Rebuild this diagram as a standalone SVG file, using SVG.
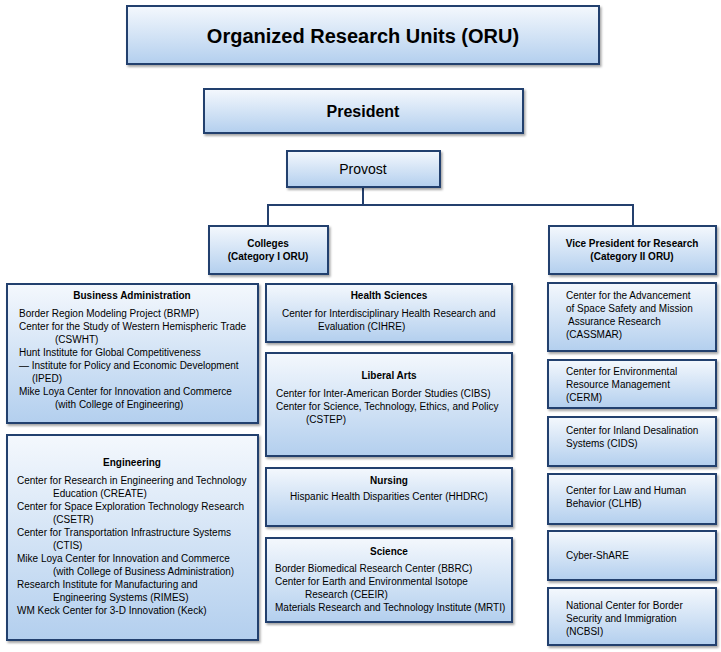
<svg xmlns="http://www.w3.org/2000/svg" width="721" height="652" viewBox="0 0 721 652">
<defs>
<linearGradient id="g" x1="0" y1="0" x2="0" y2="1"><stop offset="0" stop-color="#f4f8fd"/><stop offset="1" stop-color="#b3cfee"/></linearGradient>
<filter id="s" x="-5%" y="-5%" width="115%" height="120%"><feDropShadow dx="1.5" dy="2" stdDeviation="1.2" flood-color="#000" flood-opacity="0.35"/></filter>
</defs>
<style>
rect{fill:url(#g);stroke:#24406e;stroke-width:2;filter:url(#s)}
text{font-family:"Liberation Sans",Arial,sans-serif;font-size:10px;fill:#000}
.b{font-weight:bold}
.c{text-anchor:middle}
.con{fill:none;stroke:#24406e;stroke-width:2}
</style>
<rect width="721" height="652" style="fill:#fff;stroke:none;filter:none"/>
<g id="connectors"><path class="con" d="M363 187V205M268 227V205H633V227"/></g>
<g id="oru"><rect x="127" y="6" width="472" height="58"/><text class="b c" x="363" y="43" style="font-size:20px">Organized Research Units (ORU)</text></g>
<g id="president"><rect x="204" y="89" width="319" height="44"/><text class="b c" x="363" y="117" style="font-size:16px">President</text></g>
<g id="provost"><rect x="287" y="151" width="153" height="36"/><text class="c" x="363" y="174" style="font-size:14px">Provost</text></g>
<g id="colleges"><rect x="209" y="226" width="119" height="48"/><text class="b c" x="268" y="247">Colleges</text><text class="b c" x="268" y="260">(Category I ORU)</text></g>
<g id="vp"><rect x="549" y="226" width="167" height="48"/><text class="b c" x="632" y="247">Vice President for Research</text><text class="b c" x="632" y="260">(Category II ORU)</text></g>
<g id="business"><rect x="7" y="284" width="251" height="139"/>
<text class="b c" x="132" y="299">Business Administration</text>
<text x="19" y="317">Border Region Modeling Project (BRMP)</text>
<text x="19" y="330">Center for the Study of Western Hemispheric Trade</text>
<text x="55" y="343">(CSWHT)</text>
<text x="19" y="356">Hunt Institute for Global Competitiveness</text>
<text x="19" y="369">— Institute for Policy and Economic Development</text>
<text x="32" y="382">(IPED)</text>
<text x="19" y="395">Mike Loya Center for Innovation and Commerce</text>
<text x="55" y="408">(with College of Engineering)</text></g>
<g id="engineering"><rect x="7" y="435" width="251" height="205"/>
<text class="b c" x="132" y="466">Engineering</text>
<text x="17" y="484">Center for Research in Engineering and Technology</text>
<text x="53" y="497">Education (CREATE)</text>
<text x="17" y="510">Center for Space Exploration Technology Research</text>
<text x="53" y="523">(CSETR)</text>
<text x="17" y="536">Center for Transportation Infrastructure Systems</text>
<text x="53" y="549">(CTIS)</text>
<text x="17" y="562">Mike Loya Center for Innovation and Commerce</text>
<text x="53" y="575">(with College of Business Administration)</text>
<text x="17" y="588">Research Institute for Manufacturing and</text>
<text x="53" y="601">Engineering Systems (RIMES)</text>
<text x="17" y="614">WM Keck Center for 3-D Innovation (Keck)</text></g>
<g id="health"><rect x="266" y="284" width="246" height="58"/>
<text class="b c" x="389" y="299">Health Sciences</text>
<text x="282" y="317">Center for Interdisciplinary Health Research and</text>
<text x="318" y="330">Evaluation (CIHRE)</text></g>
<g id="liberal"><rect x="266" y="353" width="246" height="103"/>
<text class="b c" x="389" y="379">Liberal Arts</text>
<text x="276" y="397">Center for Inter-American Border Studies (CIBS)</text>
<text x="276" y="410">Center for Science, Technology, Ethics, and Policy</text>
<text x="306" y="423">(CSTEP)</text></g>
<g id="nursing"><rect x="266" y="468" width="246" height="58"/>
<text class="b c" x="389" y="484">Nursing</text>
<text class="c" x="389" y="500">Hispanic Health Disparities Center (HHDRC)</text></g>
<g id="science"><rect x="266" y="538" width="246" height="84"/>
<text class="b c" x="389" y="555">Science</text>
<text x="275" y="572">Border Biomedical Research Center (BBRC)</text>
<text x="275" y="585">Center for Earth and Environmental Isotope</text>
<text x="305" y="598">Research (CEEIR)</text>
<text x="275" y="611">Materials Research and Technology Institute (MRTI)</text></g>
<g id="cassmar"><rect x="548" y="283" width="168" height="68"/>
<text x="566" y="299">Center for the Advancement</text>
<text x="566" y="312">of Space Safety and Mission</text>
<text x="568" y="325">Assurance Research</text>
<text x="566" y="338">(CASSMAR)</text></g>
<g id="cerm"><rect x="548" y="360" width="168" height="48"/>
<text x="566" y="375">Center for Environmental</text>
<text x="566" y="388">Resource Management</text>
<text x="566" y="401">(CERM)</text></g>
<g id="cids"><rect x="548" y="417" width="168" height="49"/>
<text x="566" y="434">Center for Inland Desalination</text>
<text x="566" y="447">Systems (CIDS)</text></g>
<g id="clhb"><rect x="548" y="474" width="168" height="50"/>
<text x="566" y="494">Center for Law and Human</text>
<text x="566" y="507">Behavior (CLHB)</text></g>
<g id="cybershare"><rect x="548" y="531" width="168" height="49"/>
<text x="566" y="559">Cyber-ShARE</text></g>
<g id="ncbsi"><rect x="548" y="588" width="168" height="57"/>
<text x="566" y="609">National Center for Border</text>
<text x="566" y="622">Security and Immigration</text>
<text x="566" y="635">(NCBSI)</text></g>
</svg>
